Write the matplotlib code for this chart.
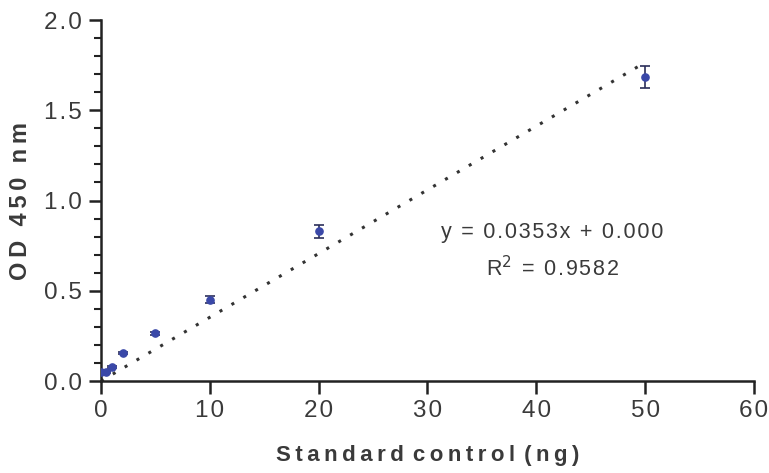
import matplotlib.pyplot as plt
from matplotlib.ticker import MultipleLocator, FuncFormatter

# standard curve readings
amount_ng = [0, 0.5, 1, 2, 5, 10, 20, 50]
od450 = [0.05, 0.05, 0.077, 0.155, 0.265, 0.45, 0.83, 1.685]
od450_err = [0.005, 0.005, 0.005, 0.008, 0.008, 0.02, 0.035, 0.06]

slope = 0.0353
intercept = 0.000
r_squared = 0.9582
fit_x = [0, 50]

plt.rcParams['font.family'] = ['Liberation Sans', 'DejaVu Sans']
text_grey = '#3a3a3a'

THIN = '\u2009'
HAIR = '\u200a'


def spaced(s, sep):
    # the original has wide letter spacing
    return sep.join(s)


def spaced_words(s, sep, word_sep):
    return word_sep.join(spaced(w, sep) for w in s.split(' '))


fig = plt.figure(figsize=(7.69, 4.73), dpi=100)
ax = fig.add_axes([0.1313, 0.1945, 0.8492, 0.7632])

fit_y = [slope * v + intercept for v in fit_x]
ax.plot(fit_x, fit_y, color='#333333', linestyle=(0, (1, 3.5)), linewidth=2.2, zorder=2)

ax.errorbar(amount_ng, od450, yerr=od450_err, fmt='o', color='#3a48a8', markersize=5.2,
            ecolor='#2b2f5a', elinewidth=1.2, capsize=3.5, capthick=1.2, zorder=3)

ax.text(41.5, 0.825, spaced(f'y = {slope}x + {intercept:.3f}', HAIR), ha='center', va='center',
        fontsize=15.5, color=text_grey)
ax.text(41.5, 0.62, spaced('R', HAIR) + '$^2$' + HAIR + spaced(f' = {r_squared}', HAIR),
        ha='center', va='center', fontsize=15.5, color=text_grey)

ax.set_xlim(0, 60)
ax.set_ylim(0, 2.0)
ax.xaxis.set_major_locator(MultipleLocator(10))
ax.yaxis.set_major_locator(MultipleLocator(0.5))
ax.yaxis.set_minor_locator(MultipleLocator(0.1))
ax.xaxis.set_major_formatter(FuncFormatter(lambda v, p: spaced(f'{v:.0f}', HAIR)))
ax.yaxis.set_major_formatter(FuncFormatter(lambda v, p: spaced(f'{v:.1f}', HAIR)))

for side in ['top', 'right']:
    ax.spines[side].set_visible(False)
for side in ['left', 'bottom']:
    ax.spines[side].set_linewidth(1.8)
    ax.spines[side].set_color('#222222')
ax.tick_params(which='major', length=9, width=1.8, labelsize=17.5, direction='out',
               color='#222222', labelcolor=text_grey, pad=5)
ax.tick_params(which='minor', length=5, width=1.5, direction='out', color='#222222')

ax.set_xlabel(spaced_words('Standard control (ng)', THIN, THIN * 2), fontsize=16,
              fontweight='bold', color=text_grey, labelpad=16)
ax.set_ylabel(spaced_words('OD 450 nm', THIN, THIN * 3), fontsize=17, fontweight='bold',
              color=text_grey, labelpad=8)

fig.savefig('out.png', dpi=100)
